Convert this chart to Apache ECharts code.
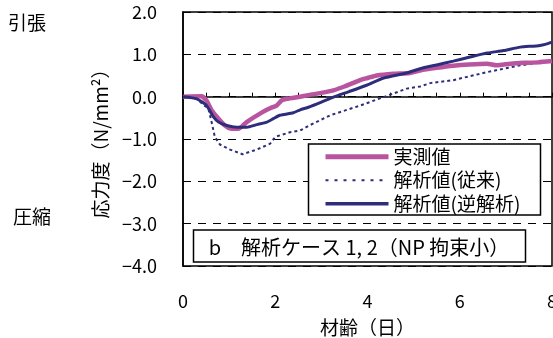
<!DOCTYPE html>
<html>
<head>
<meta charset="utf-8">
<script src="https://cdn.jsdelivr.net/npm/echarts@6/dist/echarts.min.js"></script>
<style>
  html, body { margin: 0; padding: 0; background: #fff; }
  #chart { width: 553px; height: 338px; }
</style>
</head>
<body>
<div id="chart"></div>
<script>
// 材齢 (days) and stress (N/mm²) for each curve
const measuredDays = [0, 0.4, 0.51, 0.62, 0.77, 0.91, 1.06, 1.2, 1.38, 1.67, 1.9, 2.03, 2.14, 2.25, 2.54, 2.68, 3.0, 3.26, 3.5, 3.84, 4.0, 4.2, 4.56, 4.92, 5.14, 5.5, 5.86, 6.2, 6.59, 6.8, 7.1, 7.4, 7.7, 8];
const measuredVals = [0, 0.01, -0.09, -0.32, -0.52, -0.68, -0.76, -0.76, -0.60, -0.40, -0.27, -0.21, -0.09, -0.05, 0.0, 0.03, 0.09, 0.15, 0.24, 0.39, 0.44, 0.50, 0.54, 0.56, 0.62, 0.68, 0.73, 0.76, 0.78, 0.74, 0.78, 0.80, 0.81, 0.84];

const conventionalDays = [0, 0.3, 0.45, 0.55, 0.62, 0.69, 0.8, 1.02, 1.29, 1.6, 1.89, 2.0, 2.32, 2.54, 2.72, 3.19, 3.84, 4.35, 4.85, 5.14, 5.36, 5.86, 6.59, 7.31, 8];
const conventionalVals = [0, -0.05, -0.2, -0.28, -0.6, -0.95, -1.13, -1.25, -1.36, -1.25, -1.11, -0.95, -0.84, -0.80, -0.69, -0.44, -0.21, -0.01, 0.19, 0.24, 0.32, 0.39, 0.58, 0.74, 0.84];

const inverseDays = [0, 0.3, 0.51, 0.66, 0.77, 0.95, 1.16, 1.38, 1.6, 1.82, 1.96, 2.1, 2.39, 2.54, 2.72, 3.0, 3.26, 3.6, 3.98, 4.35, 4.85, 5.14, 5.5, 5.86, 6.2, 6.59, 6.95, 7.31, 7.74, 8];
const inverseVals = [0, -0.05, -0.21, -0.48, -0.60, -0.68, -0.72, -0.72, -0.66, -0.60, -0.52, -0.44, -0.38, -0.31, -0.25, -0.13, -0.01, 0.12, 0.27, 0.44, 0.56, 0.66, 0.75, 0.84, 0.93, 1.03, 1.09, 1.17, 1.21, 1.29];

const seriesNames = ['実測値', '解析値(従来)', '解析値(逆解析)'];
const yTicks = [-4, -3, -2, -1, 0, 1, 2];
const xTickLabels = [0, 2, 4, 6, 8];

const FONT = '"Noto Sans CJK JP", "Noto Sans", sans-serif';
const PINK = '#b9559f';
const NAVY = '#2e2d7c';

function pairs(xs, ys) { return xs.map((x, i) => [x, ys[i]]); }

const chart = echarts.init(document.getElementById('chart'), null, { renderer: 'canvas' });

chart.setOption({
  animation: false,
  backgroundColor: '#fff',
  textStyle: { fontFamily: FONT, color: '#000' },
  grid: {
    left: 183, right: 1, top: 12, bottom: 72,
    outerBoundsMode: 'none', containLabel: false,
    show: true, borderColor: '#000', borderWidth: 1.5, backgroundColor: 'transparent'
  },
  xAxis: {
    type: 'value', min: 0, max: 8, interval: 0.5,
    name: '材齢（日）', nameLocation: 'middle', nameGap: 52,
    nameTextStyle: { fontSize: 19, fontFamily: FONT, color: '#000' },
    axisLine: { lineStyle: { color: '#000', width: 1.5 } },
    axisTick: { show: true, inside: true, length: 4, lineStyle: { color: '#000' } },
    axisLabel: {
      margin: 26, fontSize: 18, fontFamily: FONT, color: '#000',
      formatter: v => (xTickLabels.indexOf(v) >= 0 ? String(v) : '')
    },
    splitLine: { show: false }
  },
  yAxis: {
    type: 'value', min: yTicks[0], max: yTicks[yTicks.length - 1], interval: 1,
    name: '応力度（N/mm²）', nameLocation: 'middle', nameGap: 73, nameRotate: 90,
    nameTextStyle: { fontSize: 19, fontFamily: FONT, color: '#000' },
    axisLine: { lineStyle: { color: '#000', width: 1.5 } },
    axisTick: { show: true, inside: true, length: 4, lineStyle: { color: '#000' } },
    axisLabel: {
      margin: 26, fontSize: 18, fontFamily: FONT, color: '#000',
      formatter: v => (v < 0 ? '−' + Math.abs(v).toFixed(1) : v.toFixed(1))
    },
    splitLine: { show: true, lineStyle: { color: '#000', width: 1, type: [8, 7] } }
  },
  legend: {
    orient: 'vertical', left: 323, top: 145, z: 10,
    itemWidth: 63, itemHeight: 12, itemGap: 0, padding: 0,
    itemStyle: { opacity: 0 },
    textStyle: { fontSize: 19, fontFamily: FONT, color: '#000', lineHeight: 23.5 },
    data: [
      { name: seriesNames[0], lineStyle: { width: 5 } },
      { name: seriesNames[1], lineStyle: { width: 2, type: [3, 6] } },
      { name: seriesNames[2], lineStyle: { width: 3.5 } }
    ]
  },
  graphic: [
    { type: 'rect', z: 5, shape: { x: 308.5, y: 144, width: 232, height: 71 },
      style: { fill: '#fff', stroke: '#000', lineWidth: 1.5 } },
    { type: 'rect', z: 5, shape: { x: 193.5, y: 230, width: 332, height: 32 },
      style: { fill: '#fff', stroke: '#000', lineWidth: 1.5 } },
    { type: 'text', z: 6, x: 359, y: 247, style: { text: 'b　解析ケース 1, 2（NP 拘束小）', font: '20px ' + FONT, fill: '#000', align: 'center', verticalAlign: 'middle' } },
    { type: 'text', z: 6, x: 8, y: 23, style: { text: '引張', font: '19px ' + FONT, fill: '#000', verticalAlign: 'middle' } },
    { type: 'text', z: 6, x: 13, y: 217, style: { text: '圧縮', font: '19px ' + FONT, fill: '#000', verticalAlign: 'middle' } }
  ],
  series: [
    { name: seriesNames[0], type: 'line', symbol: 'none', z: 3, smooth: 0.2,
      lineStyle: { color: PINK, width: 4.5 }, itemStyle: { color: PINK },
      data: pairs(measuredDays, measuredVals) },
    { name: seriesNames[1], type: 'line', symbol: 'none', z: 2,
      lineStyle: { color: NAVY, width: 2, type: [3, 3] }, itemStyle: { color: NAVY },
      data: pairs(conventionalDays, conventionalVals) },
    { name: seriesNames[2], type: 'line', symbol: 'none', z: 4, smooth: 0.2,
      lineStyle: { color: NAVY, width: 3 }, itemStyle: { color: NAVY },
      data: pairs(inverseDays, inverseVals) }
  ]
});
</script>
</body>
</html>
